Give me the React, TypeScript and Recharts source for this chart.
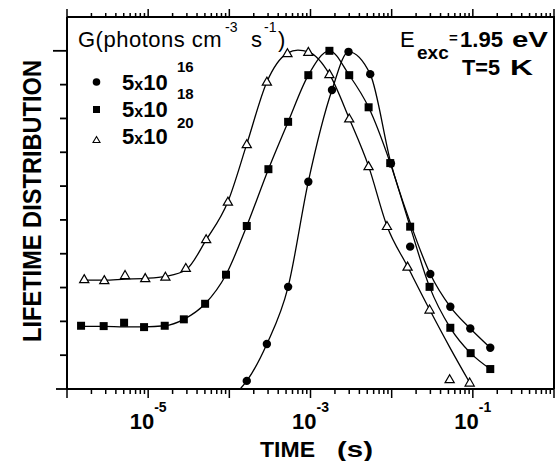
import React from 'react'
import { ComposedChart, Line, Scatter, XAxis, YAxis } from 'recharts'

// measured points, G = 5x10^20 (open triangles)
const triX = [1.63e-6, 2.88e-6, 5.19e-6, 9.2e-6, 1.63e-5, 2.91e-5, 5.18e-5, 9.6e-5, 1.64e-4, 2.9e-4, 5.2e-4, 9.4e-4, 1.71e-3, 3.0e-3, 5.19e-3, 8.75e-3, 1.57e-2, 2.93e-2, 5.18e-2, 9.14e-2]
const triY = [3.25, 3.22, 3.37, 3.28, 3.32, 3.58, 4.43, 5.54, 7.24, 9.09, 9.93, 9.97, 9.31, 8.0, 6.59, 4.82, 3.62, 2.35, 0.29, 0.19]
// fitted curve
const triFitX = [1.63e-6, 2.88e-6, 5.19e-6, 9.2e-6, 1.63e-5, 2.91e-5, 5.18e-5, 9.6e-5, 1.64e-4, 2.9e-4, 5.2e-4, 7.0e-4, 9.4e-4, 1.71e-3, 3.0e-3, 5.19e-3, 8.75e-3, 1.57e-2, 2.93e-2, 5.18e-2, 9.14e-2]
const triFitY = [3.22, 3.22, 3.25, 3.27, 3.33, 3.52, 4.41, 5.54, 7.24, 9.08, 9.93, 10.02, 9.97, 9.31, 8.0, 6.59, 4.82, 3.62, 2.35, 1.24, 0.19]

// G = 5x10^18 (filled squares)
const sqX = [1.49e-6, 2.83e-6, 5.05e-6, 8.9e-6, 1.6e-5, 2.75e-5, 5.03e-5, 9.1e-5, 1.64e-4, 3.03e-4, 5.3e-4, 9.4e-4, 1.71e-3, 3.0e-3, 5.2e-3, 9.6e-3, 1.69e-2, 2.93e-2, 5.28e-2, 9.4e-2, 0.164]
const sqY = [1.87, 1.86, 1.96, 1.83, 1.87, 2.06, 2.52, 3.38, 4.82, 6.5, 7.9, 9.28, 10.0, 9.28, 8.33, 6.68, 4.8, 3.02, 1.81, 1.06, 0.59]
const sqFitY = [1.85, 1.85, 1.84, 1.84, 1.87, 2.06, 2.52, 3.38, 4.82, 6.5, 7.9, 9.28, 10.0, 9.28, 8.33, 6.68, 4.8, 3.02, 1.81, 1.06, 0.59]

// G = 5x10^16 (filled circles)
const ciX = [1.64e-4, 2.9e-4, 5.3e-4, 9.4e-4, 1.84e-3, 2.94e-3, 5.44e-3, 9.8e-3, 1.69e-2, 2.99e-2, 5.28e-2, 9.3e-2, 0.164]
const ciY = [0.24, 1.33, 3.02, 6.13, 8.84, 9.97, 9.31, 6.67, 4.21, 3.4, 2.43, 1.79, 1.22]
const ciFitX = [1.36e-4, 1.64e-4, 2.9e-4, 5.3e-4, 9.4e-4, 1.84e-3, 2.94e-3, 5.44e-3, 9.8e-3, 1.69e-2, 2.99e-2, 5.28e-2, 9.3e-2, 0.164]
const ciFitY = [0, 0.24, 1.33, 3.02, 6.13, 8.84, 9.97, 9.31, 6.67, 4.92, 3.4, 2.43, 1.79, 1.22]

// axis ranges and ticks
const xDomain = [1e-6, 1]
const yDomain = [0, 11]
const decades = [1e-6, 1e-5, 1e-4, 1e-3, 1e-2, 1e-1]
const mantissas = [1, 2, 3, 4, 5, 6, 7, 8, 9]
const labelledExps = [-5, -3, -1]
const yTicks = [0, 1, 2, 3, 4, 5, 6, 7, 8, 9, 10]

const xTicks = decades.flatMap(d => mantissas.map(m => m * d)).concat([1])

const toPoints = (xs: number[], ys: number[]) => xs.map((x, i) => ({ x, y: ys[i] }))

const triPts = toPoints(triX, triY)
const triFit = toPoints(triFitX, triFitY)
const sqPts = toPoints(sqX, sqY)
const sqFit = toPoints(sqX, sqFitY)
const ciPts = toPoints(ciX, ciY)
const ciFit = toPoints(ciFitX, ciFitY)

// layout
const W = 556
const H = 461
const MARGIN = { top: 17, right: 2, bottom: 0, left: 0 }
const X_AXIS_H = 72
const Y_AXIS_W = 67
const PLOT_L = MARGIN.left + Y_AXIS_W
const PLOT_T = MARGIN.top
const PLOT_W = W - MARGIN.left - MARGIN.right - Y_AXIS_W
const PLOT_H = H - MARGIN.top - MARGIN.bottom - X_AXIS_H

// same log mapping as the x axis, for the mirrored ticks on the top frame
const logX = (v: number) => {
  const lo = Math.log10(xDomain[0])
  const hi = Math.log10(xDomain[1])
  return PLOT_L + (PLOT_W * (Math.log10(v) - lo)) / (hi - lo)
}

const FONT = '"Liberation Sans", Arial, Helvetica, sans-serif'

const isMajor = (v: number) => {
  const lg = Math.log10(v)
  return Math.abs(lg - Math.round(lg)) < 1e-6
}

const XTick = ({ x, y, payload }: any) => {
  const v = payload.value
  const exp = Math.round(Math.log10(v))
  const major = isMajor(v)
  const len = major ? 9 : 5
  const showLabel = major && labelledExps.includes(exp)
  return (
    <g>
      <line x1={x} y1={y} x2={x} y2={y + len} stroke="#000" strokeWidth={1.5} />
      {showLabel && (
        <text x={x} y={y + 40} textAnchor="middle" fontFamily={FONT} fontWeight="bold" fontSize={22} fill="#000">
          10<tspan dy={-17} fontSize={14}>{`-${-exp}`}</tspan>
        </text>
      )}
    </g>
  )
}

const YTick = ({ x, y, payload }: any) => {
  const v = payload.value
  const len = v === 10 ? 14 : v === 0 ? 11 : 7
  return <line x1={x} y1={y} x2={x - len} y2={y} stroke="#000" strokeWidth={1.8} />
}

const Circle = ({ cx, cy }: any) => <circle cx={cx} cy={cy} r={4.2} fill="#000" />
const Square = ({ cx, cy }: any) => <rect x={cx - 4} y={cy - 4} width={8} height={8} fill="#000" />
const Triangle = ({ cx, cy }: any) => (
  <path d={`M${cx},${cy - 4.5} L${cx + 4.6},${cy + 3.5} L${cx - 4.6},${cy + 3.5} Z`} fill="#fff" stroke="#000" strokeWidth={1.2} />
)

export default function App() {
  return (
    <div style={{ position: 'absolute', left: 0, top: 0, width: W, height: H, background: '#fff' }}>
      <ComposedChart width={W} height={H} margin={MARGIN}>
        <XAxis
          xAxisId="b"
          dataKey="x"
          type="number"
          scale="log"
          domain={xDomain}
          ticks={xTicks}
          interval={0}
          tickSize={0}
          tickMargin={0}
          tickLine={false}
          tick={(p: any) => <XTick {...p} />}
          axisLine={{ stroke: '#000', strokeWidth: 2 }}
          height={X_AXIS_H}
        />
        <YAxis
          yAxisId="l"
          dataKey="y"
          type="number"
          domain={yDomain}
          ticks={yTicks}
          interval={0}
          tickSize={0}
          tickMargin={0}
          tickLine={false}
          tick={(p: any) => <YTick {...p} />}
          axisLine={{ stroke: '#000', strokeWidth: 2 }}
          width={Y_AXIS_W}
        />

        <Line xAxisId="b" yAxisId="l" data={triFit} dataKey="y" type="monotone" stroke="#000" strokeWidth={1.3} dot={false} isAnimationActive={false} />
        <Line xAxisId="b" yAxisId="l" data={sqFit} dataKey="y" type="monotone" stroke="#000" strokeWidth={1.3} dot={false} isAnimationActive={false} />
        <Line xAxisId="b" yAxisId="l" data={ciFit} dataKey="y" type="monotone" stroke="#000" strokeWidth={1.3} dot={false} isAnimationActive={false} />
        <Scatter xAxisId="b" yAxisId="l" data={triPts} dataKey="y" shape={<Triangle />} isAnimationActive={false} />
        <Scatter xAxisId="b" yAxisId="l" data={sqPts} dataKey="y" shape={<Square />} isAnimationActive={false} />
        <Scatter xAxisId="b" yAxisId="l" data={ciPts} dataKey="y" shape={<Circle />} isAnimationActive={false} />
      </ComposedChart>

      {/* frame, top ticks and texts */}
      <svg width={W} height={H} style={{ position: 'absolute', left: 0, top: 0, pointerEvents: 'none' }} fontFamily={FONT} fill="#000">
        <path
          d={`M${PLOT_L},${PLOT_T} L${PLOT_L + PLOT_W},${PLOT_T} L${PLOT_L + PLOT_W},${PLOT_T + PLOT_H}`}
          fill="none"
          stroke="#000"
          strokeWidth={2}
        />
        {xTicks.map(v => (
          <line key={v} x1={logX(v)} y1={PLOT_T} x2={logX(v)} y2={PLOT_T - (isMajor(v) ? 8 : 4)} stroke="#000" strokeWidth={1.5} />
        ))}

        <text transform="translate(41,201) rotate(-90)" textAnchor="middle" fontSize={26} fontWeight="bold" textLength={282} lengthAdjust="spacingAndGlyphs">
          LIFETIME DISTRIBUTION
        </text>
        <text x={260} y={457} fontSize={22} fontWeight="bold" textLength={55} lengthAdjust="spacingAndGlyphs">TIME</text>
        <text x={337} y={457} fontSize={22} fontWeight="bold" textLength={36} lengthAdjust="spacingAndGlyphs">(s)</text>

        <text x={78} y={47} fontSize={22} letterSpacing={0.5}>G(photons cm</text>
        <text x={225} y={32} fontSize={14}>-3</text>
        <text x={251} y={47} fontSize={22}>s</text>
        <text x={264} y={32} fontSize={14}>-1</text>
        <text x={278} y={47} fontSize={22}>)</text>

        <circle cx={96.5} cy={82} r={3.8} fill="#000" />
        <text x={122} y={90} fontSize={22} fontWeight="bold">5<tspan fontSize={16}>x</tspan>10</text>
        <text x={177} y={72} fontSize={15} fontWeight="bold">16</text>

        <rect x={93} y={106} width={7} height={7} fill="#000" />
        <text x={122} y={117} fontSize={22} fontWeight="bold">5<tspan fontSize={16}>x</tspan>10</text>
        <text x={177} y={99} fontSize={15} fontWeight="bold">18</text>

        <path d="M96.5,136.5 L100,142.5 L93,142.5 Z" fill="#fff" stroke="#000" strokeWidth={1.1} />
        <text x={122} y={144} fontSize={22} fontWeight="bold">5<tspan fontSize={16}>x</tspan>10</text>
        <text x={177} y={128} fontSize={15} fontWeight="bold">20</text>

        <text x={400} y={47} fontSize={22}>E</text>
        <text x={417} y={59} fontSize={19} fontWeight="bold">exc</text>
        <text x={449} y={43} fontSize={15} fontWeight="bold">=</text>
        <text x={460} y={47} fontSize={22} fontWeight="bold" textLength={43} lengthAdjust="spacingAndGlyphs">1.95</text>
        <text x={512} y={47} fontSize={22} fontWeight="bold" textLength={36} lengthAdjust="spacingAndGlyphs">eV</text>
        <text x={462} y={75} fontSize={22} fontWeight="bold" textLength={38} lengthAdjust="spacingAndGlyphs">T=5</text>
        <text x={510} y={75} fontSize={22} fontWeight="bold" textLength={23} lengthAdjust="spacingAndGlyphs">K</text>
      </svg>
    </div>
  )
}
